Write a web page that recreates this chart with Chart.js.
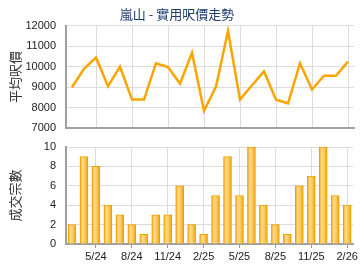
<!DOCTYPE html>
<html>
<head>
<meta charset="utf-8">
<script src="https://cdn.jsdelivr.net/npm/chart.js@4/dist/chart.umd.min.js"></script>
<style>
html,body{margin:0;padding:0;background:#fff;width:360px;height:270px;overflow:hidden;}
canvas{position:absolute;left:0;}
#c1{top:0;}
#c2{top:135px;}
</style>
</head>
<body>
<canvas id="c1" width="360" height="135"></canvas>
<canvas id="c2" width="360" height="135"></canvas>
<script>
const months = ["3/24","4/24","5/24","6/24","7/24","8/24","9/24","10/24","11/24","12/24","1/25","2/25","3/25","4/25","5/25","6/25","7/25","8/25","9/25","10/25","11/25","12/25","1/26","2/26"];
const avgPrice = [9000, 9900, 10450, 9050, 10000, 8400, 8400, 10170, 9980, 9180, 10680, 7850, 9030, 11740, 8400, 9100, 9770, 8400, 8220, 10170, 8890, 9560, 9560, 10250];
const txCount = [2, 9, 8, 4, 3, 2, 1, 3, 3, 6, 2, 1, 5, 9, 5, 10, 4, 2, 1, 6, 7, 10, 5, 4];
const priceTicks = [7000, 8000, 9000, 10000, 11000, 12000];
const countTicks = [0,1,2,3,4,5,6,7,8,9,10];
const titleText = "嵐山 - 實用呎價走勢";
const yTitle1 = "平均呎價";
const yTitle2 = "成交宗數";

const tickFont = {family: "'Liberation Sans', Arial, sans-serif", size: 11};
const cjkFont = "'Noto Sans CJK TC', 'Noto Sans CJK SC', sans-serif";
const gridCol = '#dcdcdc';
const axisCol = '#a0a0a0';
const showIdx = i => i % 3 === 2;

function xScale(showLabels, h) {
  return {
    type: 'category',
    offset: true,
    grid: {
      offset: false,
      color: c => (c.index !== undefined && showIdx(c.index)) ? gridCol : 'rgba(0,0,0,0)',
      tickColor: c => (c.index !== undefined && showIdx(c.index)) ? '#999' : 'rgba(0,0,0,0)',
      tickLength: 4,
      drawTicks: showLabels
    },
    border: {color: axisCol, width: 2},
    ticks: {
      display: showLabels,
      autoSkip: false,
      maxRotation: 0,
      padding: 2,
      color: '#222',
      font: tickFont,
      callback: function(v, i) { return showIdx(i) ? months[i] : ''; }
    },
    afterFit: s => { s.height = h; }
  };
}

function yScale(min, max, title, ticksArr) {
  return {
    min: min, max: max,
    afterBuildTicks: s => { s.ticks = ticksArr.map(v => ({value: v})); },
    grid: {color: gridCol, tickLength: 10, tickColor: 'rgba(0,0,0,0)'},
    border: {color: axisCol, width: 2},
    ticks: {color: '#222', font: tickFont, padding: 0, callback: v => String(v)},
    title: {display: true, text: title, color: '#333', font: {family: cjkFont, size: 13}, padding: {top: 7, bottom: 0}},
    afterFit: s => { s.width = 66; }
  };
}

new Chart(document.getElementById('c1'), {
  type: 'line',
  data: {
    labels: months,
    datasets: [{
      data: avgPrice,
      borderColor: '#FBA503',
      borderWidth: 2.5,
      pointRadius: 0,
      tension: 0,
      fill: false
    }]
  },
  options: {
    responsive: false,
    animation: false,
    devicePixelRatio: 1,
    layout: {padding: {left: 0, right: 6, top: 0, bottom: 0}},
    plugins: {
      legend: {display: false},
      tooltip: {enabled: false},
      title: {
        display: true, text: titleText, color: '#1d3c6e',
        font: {family: cjkFont, size: 13, weight: 'normal'},
        padding: {top: 6, bottom: 4}
      }
    },
    scales: {
      x: xScale(false, 6),
      y: yScale(7000, 12000, yTitle1, priceTicks)
    }
  }
});

new Chart(document.getElementById('c2'), {
  type: 'bar',
  data: {
    labels: months,
    datasets: [{
      data: txCount,
      barThickness: 8,
      borderColor: '#EFA000',
      borderWidth: 1,
      borderSkipped: 'bottom',
      backgroundColor: function(ctx) {
        const chart = ctx.chart;
        if (!chart.chartArea || ctx.dataIndex === undefined) return '#F9C24D';
        const x = chart.scales.x.getPixelForValue(ctx.dataIndex);
        const g = chart.ctx.createLinearGradient(x - 4, 0, x + 4, 0);
        g.addColorStop(0, '#F3A400');
        g.addColorStop(0.3, '#FFD98C');
        g.addColorStop(0.6, '#FCCB62');
        g.addColorStop(1, '#F0A000');
        return g;
      }
    }]
  },
  options: {
    responsive: false,
    animation: false,
    devicePixelRatio: 1,
    layout: {padding: {left: 0, right: 6, top: 12, bottom: 0}},
    plugins: {legend: {display: false}, tooltip: {enabled: false}},
    scales: {
      x: xScale(true, 26),
      y: yScale(0, 10, yTitle2, countTicks)
    }
  }
});
</script>
</body>
</html>
